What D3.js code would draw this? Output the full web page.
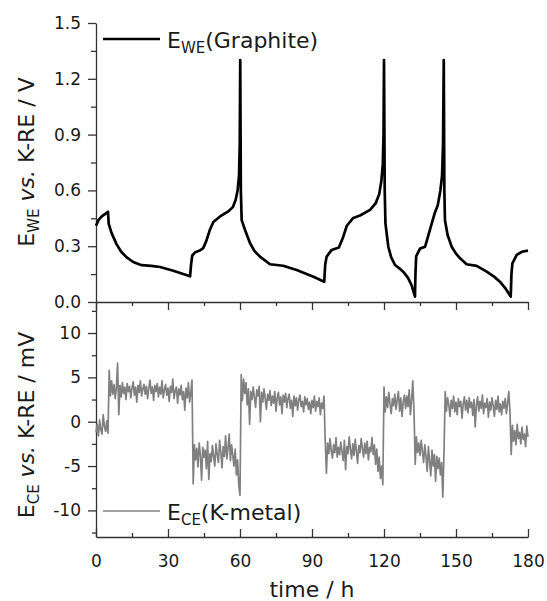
<!DOCTYPE html>
<html>
<head>
<meta charset="utf-8">
<script src="https://cdn.jsdelivr.net/npm/d3@7"></script>
<style>
  body { margin: 0; background: #fff; }
  text { font-family: "DejaVu Sans", Verdana, sans-serif; fill: #1a1a1a; }
</style>
</head>
<body>
<div id="my_dataviz"></div>
<script>
// working electrode potential (V) vs time (h)
var timeWE = [0, 1, 2.4, 4, 5, 5.3, 6.5, 8.6, 10.5, 12.8, 15.5, 19, 23, 26.7, 30, 32.2, 36, 39.2,
  39.6, 40.1, 41.3, 43, 44.7, 46, 47.5, 48.9, 51.7, 55.1, 57, 58.2, 59, 59.6, 59.9, 60.1,
  60.35, 60.7, 62.1, 64.2, 66, 68.3, 72.5, 78, 83.6, 90.6, 95.1,
  95.5, 96.1, 98.2, 101.2, 103, 104.5, 107.2, 110, 114.2, 116.5, 118, 118.9, 119.5, 119.8, 120,
  120.3, 120.6, 121.8, 123, 124.6, 126.5, 128, 130, 131.5, 132.9,
  133.1, 133.4, 135, 137.1, 138.5, 139.9, 141.2, 142.4, 143.5, 144.2, 144.6, 144.9,
  145.15, 145.4, 146.5, 148.2, 150, 151.7, 154.4, 158.6, 162.8, 166, 168.3, 170.5, 172.8,
  173.1, 173.5, 175.3, 177.4, 180];
var potentialWE = [0.41, 0.44, 0.46, 0.475, 0.485, 0.42, 0.37, 0.31, 0.27, 0.24, 0.215, 0.198, 0.194, 0.188, 0.176, 0.168, 0.152, 0.138,
  0.20, 0.25, 0.267, 0.275, 0.29, 0.33, 0.39, 0.43, 0.46, 0.487, 0.51, 0.55, 0.6, 0.68, 0.85, 1.30,
  0.6, 0.44, 0.387, 0.316, 0.275, 0.244, 0.203, 0.195, 0.172, 0.136, 0.109,
  0.2, 0.244, 0.28, 0.293, 0.35, 0.41, 0.452, 0.465, 0.495, 0.53, 0.58, 0.65, 0.74, 0.9, 1.30,
  0.6, 0.423, 0.297, 0.24, 0.199, 0.18, 0.163, 0.13, 0.09, 0.029,
  0.15, 0.245, 0.287, 0.297, 0.36, 0.423, 0.48, 0.52, 0.6, 0.68, 0.85, 1.30,
  0.6, 0.44, 0.36, 0.297, 0.26, 0.235, 0.203, 0.194, 0.163, 0.135, 0.109, 0.075, 0.029,
  0.15, 0.208, 0.253, 0.27, 0.276];

// counter electrode potential (mV), one reading every half hour from 0 to 180 h
var stepCE = 0.5;
var potentialCE = [
  -1.2, -0.3, -1.6, 0.2, -0.9, -1.4, 0.8, -0.5, -1.1, 0.1, -1.3,
  5.8, 2.9, 4.6, 3.1, 4.2, 2.6, 3.9, 6.6, 0.8, 4.1, 2.8, 4.4, 3.2, 3.9, 2.5, 4.3, 3.4, 4.0, 2.7,
  3.8, 4.5, 3.0, 3.9, 2.2, 4.1, 3.3, 4.6, 2.9, 3.7, 4.2, 3.1, 4.0, 2.6, 3.8, 4.7, 3.2, 3.9, 2.4, 4.1,
  3.4, 4.3, 2.8, 3.9, 3.1, 4.6, 2.7, 3.6, 4.2, 3.0, 3.8, 2.3, 4.0, 3.3, 4.8, 2.6, 3.5, 3.9, 2.1, 3.7,
  3.0, 4.1, 2.5, 3.4, 1.3, 3.8, 2.7, 4.4, 2.2, 3.3, 4.7,
  -7.0, -2.6, -4.3, -3.0, -5.1, -2.4, -3.8, -6.6, -2.9, -4.0, -3.2, -5.3, -2.2, -6.5, -3.6, -4.5, -2.7, -3.9, -5.0,
  -2.5, -3.7, -4.6, -2.1, -3.4, -5.2, -2.8, -3.9, -1.6, -4.2, -3.0, -1.4, -4.4, -2.6, -3.8, -5.0, -3.1, -6.0, -4.3, -7.2, -8.3,
  5.3, 2.4, 4.8, 3.2, 4.4, 1.9, 3.7, -0.3, 3.4, 2.5, 3.9, 2.8, 1.6, 3.6, 2.9, 4.0, 0.0, 3.3, 2.2,
  3.7, 2.6, 1.4, 3.1, 2.4, 3.5, 1.8, 2.9, 2.1, 3.4, 1.2, 2.7, 3.3, 1.9, 2.8, 0.9, 3.0, 2.2, 3.2, 1.6,
  2.6, 3.1, 1.5, 2.4, 0.6, 2.9, 1.8, 2.7, 1.3, 2.5, 3.0, 1.7, 2.3, 1.1, 2.8, 1.9, 2.6, 1.4, 2.2, 0.9,
  2.4, 1.6, 2.9, 1.2, 2.3, 1.7, 2.7, 0.8, 2.1, 1.5, 2.9, -2.0,
  -5.8, -2.4, -3.6, -1.9, -3.2, -4.1, -2.6, -3.5, -1.8, -4.0, -2.9, -3.7, -2.3, -3.4, -4.4, -2.1, -5.4, -2.8,
  -3.6, -1.7, -3.1, -4.2, -2.5, -3.8, -2.0, -3.3, -4.7, -2.7, -3.5, -1.9, -3.0, -4.0, -2.4, -3.6, -2.2, -4.3,
  -2.9, -3.4, -1.8, -3.7, -2.6, -4.8, -3.1, -5.6, -4.0, -6.4, -5.0, -7.1,
  3.9, 1.1, 2.8, 1.6, 3.3, 2.0, 0.9, 2.6, 1.8, 3.1, 1.4, 2.5, 3.4, 1.2, 2.7, 0.6, 2.2, 3.0, 1.5, 2.9,
  1.7, 3.6, 0.8, 2.4, 4.6, 1.2,
  -4.8, -1.7, -3.5, -2.4, -3.8, -2.1, -3.3, -4.6, -2.6, -3.9, -5.6, -2.8, -4.4, -6.1, -3.2, -5.0, -3.7, -6.7,
  -3.9, -5.3, -4.1, -6.0, -4.6, -8.5, -3.5,
  3.4, 1.2, 2.7, 1.9, 0.6, 2.4, 1.5, 2.9, 1.1, 2.2, 0.8, 2.6, 1.7, 2.3, 0.4, 2.0, 2.8, 1.3, 2.4, 1.0,
  2.7, 1.6, 2.2, 0.7, 2.5, -0.6, 1.9, 2.8, 1.2, 2.3, 1.5, 3.0, 0.9, 2.1, 1.6, 2.6, 0.5, 2.2, 1.3, 2.7,
  1.8, 0.6, 2.4, 1.4, 2.9, 1.1, 2.0, 0.8, 2.3, 1.5, 2.6, 0.9, 2.1, 3.4, 1.0,
  -3.7, -0.4, -2.2, -1.0, -2.6, -0.3, -1.9, -1.2, -2.5, -0.6, -2.0, -1.4, -2.8, -0.5, -1.7];

var xTicks = [0, 30, 60, 90, 120, 150, 180];
var xMinor = [15, 45, 75, 105, 135, 165];
var weTicks = [0, 0.3, 0.6, 0.9, 1.2, 1.5];
var weMinor = [0.15, 0.45, 0.75, 1.05, 1.35];
var ceTicks = [-10, -5, 0, 5, 10];
var ceMinor = [-12.5, -7.5, -2.5, 2.5, 7.5, 12.5];

var width = 547, height = 601;
var axisColor = "#333";

var svg = d3.select("#my_dataviz")
  .append("svg")
    .attr("width", width)
    .attr("height", height);

var x = d3.scaleLinear().domain([0, 180]).range([96, 528]);
var yWE = d3.scaleLinear().domain([0, 1.5]).range([302, 23]);
var yCE = d3.scaleLinear().domain([-13, 13.5]).range([537, 302]);

var dataWE = timeWE.map(function(t, i) { return {t: t, v: potentialWE[i]}; });
var dataCE = potentialCE.map(function(v, i) { return {t: i * stepCE, v: v}; });

function styleAxis(g) {
  g.selectAll("path, line").attr("stroke", axisColor).attr("stroke-width", 1.3);
  g.selectAll("text").attr("font-size", "17px").attr("fill", "#1a1a1a")
    .attr("font-family", "DejaVu Sans, Verdana, sans-serif");
}
var minus = function(d) { return String(d); };

// ---- top panel: left axis
svg.append("g").attr("transform", "translate(96,0)")
  .call(d3.axisLeft(yWE).tickValues(weTicks).tickSize(8).tickSizeOuter(0).tickPadding(7)
    .tickFormat(d3.format(".1f")))
  .call(styleAxis);
svg.append("g").attr("transform", "translate(96,0)")
  .call(d3.axisLeft(yWE).tickValues(weMinor).tickSize(5).tickFormat(""))
  .call(styleAxis)
  .select(".domain").remove();

// ---- shared middle axis
svg.append("g").attr("transform", "translate(0,302)")
  .call(d3.axisBottom(x).tickValues(xTicks).tickSize(8).tickSizeOuter(0).tickFormat(""))
  .call(styleAxis);
svg.append("g").attr("transform", "translate(0,302)")
  .call(d3.axisBottom(x).tickValues(xMinor).tickSize(4).tickFormat(""))
  .call(styleAxis)
  .select(".domain").remove();

// ---- bottom panel: left axis
svg.append("g").attr("transform", "translate(96,0)")
  .call(d3.axisLeft(yCE).tickValues(ceTicks).tickSize(8).tickSizeOuter(0).tickPadding(7)
    .tickFormat(minus))
  .call(styleAxis);
svg.append("g").attr("transform", "translate(96,0)")
  .call(d3.axisLeft(yCE).tickValues(ceMinor).tickSize(4).tickFormat(""))
  .call(styleAxis)
  .select(".domain").remove();

// ---- bottom x axis, ticks pointing in
svg.append("g").attr("transform", "translate(0,537)")
  .call(d3.axisBottom(x).tickValues(xTicks).tickSize(-8).tickSizeOuter(0).tickPadding(18))
  .call(styleAxis);
svg.append("g").attr("transform", "translate(0,537)")
  .call(d3.axisBottom(x).tickValues(xMinor).tickSize(-4).tickFormat(""))
  .call(styleAxis)
  .select(".domain").remove();

// ---- lines
var lineWE = d3.line().x(function(d) { return x(d.t); }).y(function(d) { return yWE(d.v); });
var lineCE = d3.line().x(function(d) { return x(d.t); }).y(function(d) { return yCE(d.v); });

svg.append("path")
  .datum(dataCE)
  .attr("d", lineCE)
  .attr("fill", "none")
  .attr("stroke", "#808080")
  .attr("stroke-width", 1.7)
  .attr("stroke-linejoin", "round");

svg.append("path")
  .datum(dataWE)
  .attr("d", lineWE)
  .attr("fill", "none")
  .attr("stroke", "#000")
  .attr("stroke-width", 2.7)
  .attr("stroke-linejoin", "round");

// ---- axis labels
function potentialLabel(sel, sub, unit) {
  sel.append("tspan").text("E");
  sel.append("tspan").attr("dy", 5).attr("font-size", "15px").text(sub);
  sel.append("tspan").attr("dy", -5).text(" ");
  sel.append("tspan").attr("font-style", "italic").text("vs.");
  sel.append("tspan").text(" K-RE / " + unit);
}

svg.append("text")
  .attr("transform", "translate(34,162) rotate(-90)")
  .attr("text-anchor", "middle")
  .attr("font-size", "22px")
  .call(potentialLabel, "WE", "V");

svg.append("text")
  .attr("transform", "translate(34,425) rotate(-90)")
  .attr("text-anchor", "middle")
  .attr("font-size", "22px")
  .call(potentialLabel, "CE", "mV");

svg.append("text")
  .attr("x", 312)
  .attr("y", 597)
  .attr("text-anchor", "middle")
  .attr("font-size", "22px")
  .text("time / h");

// ---- legends
function legend(y, color, w, sub, name) {
  svg.append("line")
    .attr("x1", 103).attr("x2", 160)
    .attr("y1", y - 9).attr("y2", y - 9)
    .attr("stroke", color).attr("stroke-width", w);
  var t = svg.append("text")
    .attr("x", 167).attr("y", y)
    .attr("font-size", "22px");
  t.append("tspan").text("E");
  t.append("tspan").attr("dy", 5).attr("font-size", "15px").text(sub);
  t.append("tspan").attr("dy", -5).text(name);
}
legend(48, "#000", 2.7, "WE", "(Graphite)");
legend(520, "#808080", 1.4, "CE", "(K-metal)");
</script>
</body>
</html>
